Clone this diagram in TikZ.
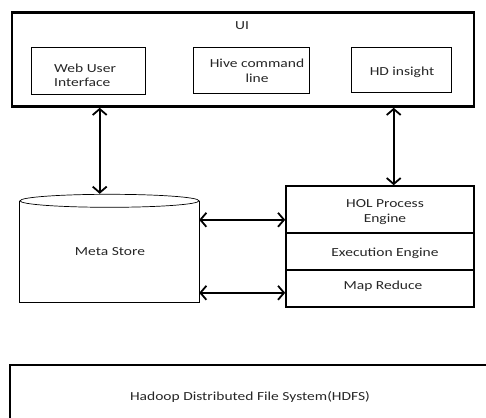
\documentclass[tikz,border=0pt]{standalone}
\usepackage{fontspec}
\setmainfont{Carlito}[FakeStretch=1.26]
\usetikzlibrary{arrows.meta,calc}
\begin{document}
\begin{tikzpicture}[x=1pt,y=-1pt,
  every node/.style={font=\fontsize{12.3}{14.5}\selectfont, inner sep=0pt, text=black!85},
  inbox/.style={draw, line width=0.9pt, align=left},
  stack/.style={draw, line width=1.6pt, minimum width=188pt, align=center},
  arr/.style={line width=1.8pt, {Straight Barb[length=6pt,width=14pt]}-{Straight Barb[length=6pt,width=14pt]}}]
\useasboundingbox (0,0) rectangle (486,417);
\clip (0,0) rectangle (486,417);
% UI container
\node[draw, line width=2.6pt, minimum width=462pt, minimum height=94pt] (ui) at (243,59.5) {};
\node (uil) at (242,26) {UI};
\node[inbox, minimum width=114pt, minimum height=47pt] (wui) at (88,70.5) {};
\node[anchor=west, align=left] (wuit) at (54,75.5) {Web User\\Interface};
\node[inbox, minimum width=116pt, minimum height=46pt, align=center] (hive) at (251,70) {};
\node[align=center] (hivet) at (257,71) {Hive command\\line};
\node[inbox, minimum width=100pt, minimum height=45pt] (hd) at (401,69.5) {};
\node (hdt) at (402,72) {HD insight};
% Meta store cylinder
\node[minimum width=179pt, minimum height=101pt] (ms) at (109.5,251.5) {};
\node (mst) at (110,252) {Meta Store};
\draw[line width=0.7pt] (ms.north west) -- (ms.south west) -- (ms.south east) -- (ms.north east);
\draw[line width=0.7pt, fill=white] (ms.north) ellipse [x radius=89.5, y radius=6.5];
% right stack
\node[stack, minimum height=47pt] (hol) at (380,209.5) {};
\node[align=center] (holt) at (385,212) {HOL Process\\Engine};
\node[stack, minimum height=37pt] (exe) at (380,251.5) {};
\node (exet) at (385,253) {Execution Engine};
\node[stack, minimum height=37pt] (mr) at (380,288.5) {};
\node (mrt) at (383,286) {Map Reduce};
% HDFS
\node[draw, line width=2.4pt, minimum width=500pt, minimum height=80pt] (hdfs) at (260,405) {};
\node (hdfst) at (250,397) {Hadoop Distributed File System(HDFS)};
% connectors
\coordinate (a1) at ($(ui.south west)+(89,0)$);
\coordinate (b1) at ($(ms.north west)+(81,-7)$);
\draw[arr] (a1) -- (a1 |- b1);
\coordinate (a2) at ($(ui.south west)+(383,0)$);
\draw[arr] (a2) -- (a2 |- hol.north);
\coordinate (c1) at ($(ms.north east)+(0,19)$);
\draw[arr] (c1) -- (c1 -| hol.west);
\coordinate (c2) at ($(ms.north east)+(0,92)$);
\draw[arr] (c2) -- (c2 -| mr.west);
\end{tikzpicture}
\end{document}
